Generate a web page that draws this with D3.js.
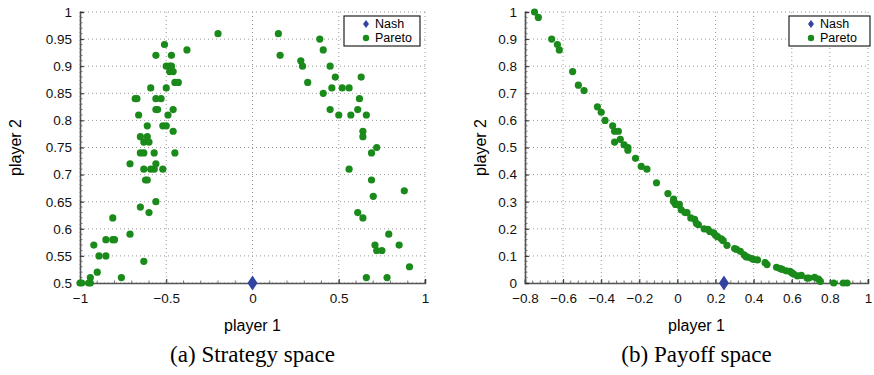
<!DOCTYPE html>
<html>
<head>
<meta charset="utf-8">
<script src="https://cdn.jsdelivr.net/npm/d3@7"></script>
<style>
  body { margin: 0; background: #fff; }
  text { font-family: "Liberation Sans", Arial, sans-serif; }
  .caption { font-family: "Liberation Serif", "Times New Roman", serif; }
</style>
</head>
<body>
<div id="container"></div>
<script>
/* DATA */
// (a) strategy space, pareto points
const stratX = [-0.20, -0.51, -0.38, -0.56, -0.47, -0.50, -0.48, -0.47, -0.48, -0.46, -0.45, -0.43,
  -0.59, -0.50, -0.68, -0.67, -0.56, -0.53, -0.56, -0.55, -0.46, -0.66, -0.49, -0.61, -0.52, -0.50,
  -0.46, -0.65, -0.61, -0.63, -0.60, -0.65, -0.63, -0.57, -0.45, -0.71, -0.63, -0.59, -0.57, -0.56,
  -0.52, -0.62, -0.61, -0.56, -0.65, -0.60, -0.81, -0.71, -0.85, -0.81, -0.80, -0.92, -0.89, -0.85,
  -0.63, -0.90, -0.94, -0.76, -1.00, -0.99, -0.95, -0.94,
  0.15, 0.39, 0.41, 0.16, 0.28, 0.29, 0.45, 0.48, 0.63, 0.32, 0.46, 0.52, 0.56, 0.41, 0.62, 0.45,
  0.61, 0.50, 0.57, 0.66, 0.64, 0.64, 0.72, 0.69, 0.56, 0.69, 0.88, 0.70, 0.61, 0.64, 0.79, 0.71,
  0.85, 0.72, 0.75, 0.91, 0.66, 0.78];
const stratY = [0.96, 0.94, 0.93, 0.92, 0.92, 0.90, 0.90, 0.90, 0.89, 0.89, 0.87, 0.87,
  0.86, 0.86, 0.84, 0.84, 0.84, 0.84, 0.82, 0.82, 0.82, 0.81, 0.81, 0.79, 0.79, 0.79,
  0.78, 0.77, 0.77, 0.76, 0.76, 0.74, 0.74, 0.74, 0.74, 0.72, 0.71, 0.71, 0.71, 0.72,
  0.71, 0.69, 0.69, 0.65, 0.64, 0.63, 0.62, 0.59, 0.58, 0.58, 0.58, 0.57, 0.55, 0.55,
  0.54, 0.52, 0.51, 0.51, 0.50, 0.50, 0.50, 0.50,
  0.96, 0.95, 0.93, 0.92, 0.91, 0.90, 0.90, 0.88, 0.88, 0.87, 0.86, 0.86, 0.86, 0.85, 0.84, 0.82,
  0.82, 0.81, 0.81, 0.81, 0.78, 0.77, 0.75, 0.74, 0.71, 0.69, 0.67, 0.66, 0.63, 0.62, 0.59, 0.57,
  0.57, 0.56, 0.56, 0.53, 0.51, 0.51];

// (b) payoff space, pareto points
const payX = [-0.75, -0.73, -0.66, -0.63, -0.62, -0.55, -0.52, -0.49, -0.42, -0.40, -0.38, -0.34,
  -0.33, -0.31, -0.30, -0.33, -0.28, -0.26, -0.26, -0.22, -0.19, -0.16, -0.11, -0.05,
  -0.02, -0.02, -0.01, 0.01, 0.02, 0.04, 0.05, 0.07, 0.09, 0.10, 0.11,
  0.14, 0.16, 0.17, 0.19, 0.20, 0.21, 0.23, 0.24, 0.26,
  0.30, 0.31, 0.33, 0.35, 0.36, 0.37, 0.39, 0.40, 0.42, 0.46, 0.47,
  0.52, 0.54, 0.55, 0.57, 0.59, 0.60, 0.61, 0.63, 0.65, 0.68, 0.69, 0.72, 0.74, 0.75,
  0.82, 0.87, 0.89];
const payY = [1.00, 0.98, 0.90, 0.88, 0.86, 0.78, 0.73, 0.71, 0.65, 0.63, 0.60, 0.58,
  0.56, 0.56, 0.53, 0.52, 0.51, 0.50, 0.49, 0.46, 0.43, 0.42, 0.37, 0.33,
  0.31, 0.30, 0.29, 0.29, 0.27, 0.26, 0.26, 0.24, 0.235, 0.22, 0.215,
  0.20, 0.198, 0.19, 0.185, 0.176, 0.171, 0.163, 0.156, 0.139,
  0.127, 0.124, 0.117, 0.104, 0.097, 0.095, 0.09, 0.087, 0.085, 0.075, 0.068,
  0.058, 0.053, 0.05, 0.045, 0.043, 0.038, 0.033, 0.026, 0.028, 0.018, 0.018, 0.021, 0.014, 0.006,
  0, 0, 0];

// nash points
const nashStrat = [0, 0.5];
const nashPay = [0.244, 0];

// ticks
const stratXTicks = [-1, -0.5, 0, 0.5, 1];
const stratYTicks = [0.5, 0.55, 0.6, 0.65, 0.7, 0.75, 0.8, 0.85, 0.9, 0.95, 1];
const payXTicks = [-0.8, -0.6, -0.4, -0.2, 0, 0.2, 0.4, 0.6, 0.8, 1];
const payYTicks = [0, 0.1, 0.2, 0.3, 0.4, 0.5, 0.6, 0.7, 0.8, 0.9, 1];

const seriesNames = ["Nash", "Pareto"];
const captions = ["(a) Strategy space", "(b) Payoff space"];

/* CONSTANTS */
const W = 874, H = 375;
const green = "#1a8a1a";
const blue = "#3344a0";

const svg = d3.select('#container')
  .append('svg')
  .attr("width", W)
  .attr("height", H);

function drawPanel(opt) {
  const x = d3.scaleLinear().domain(opt.xDomain).range([opt.left, opt.right]);
  const y = d3.scaleLinear().domain(opt.yDomain).range([opt.bottom, opt.top]);
  const g = svg.append("g");

  // grid lines (dotted)
  g.selectAll(".vgrid")
    .data(opt.xTicks)
    .enter().append("line")
    .attr("x1", d => x(d)).attr("x2", d => x(d))
    .attr("y1", opt.top).attr("y2", opt.bottom)
    .attr("stroke", "#999").attr("stroke-width", 1)
    .attr("stroke-dasharray", "1,3");
  g.selectAll(".hgrid")
    .data(opt.yTicks)
    .enter().append("line")
    .attr("x1", opt.left).attr("x2", opt.right)
    .attr("y1", d => y(d)).attr("y2", d => y(d))
    .attr("stroke", "#999").attr("stroke-width", 1)
    .attr("stroke-dasharray", "1,3");

  // minor ticks
  const xMinor = d3.range(opt.xDomain[0], opt.xDomain[1] + 1e-9, opt.xMinorStep);
  g.selectAll(".xminor").data(xMinor).enter().append("line")
    .attr("x1", d => x(d)).attr("x2", d => x(d))
    .attr("y1", opt.bottom).attr("y2", opt.bottom - 2.5)
    .attr("stroke", "#555").attr("stroke-width", 0.8);
  const yMinor = d3.range(opt.yDomain[0], opt.yDomain[1] + 1e-9, opt.yMinorStep);
  g.selectAll(".yminor").data(yMinor).enter().append("line")
    .attr("x1", opt.left).attr("x2", opt.left + 2.5)
    .attr("y1", d => y(d)).attr("y2", d => y(d))
    .attr("stroke", "#555").attr("stroke-width", 0.8);

  // axes
  const xAxis = g.append("g")
    .attr("transform", `translate(0,${opt.bottom})`)
    .call(d3.axisBottom(x).tickValues(opt.xTicks).tickSize(-4).tickPadding(10)
      .tickFormat(d => d3.format("~g")(d).replace("-", "\u2212")));
  const yAxis = g.append("g")
    .attr("transform", `translate(${opt.left},0)`)
    .call(d3.axisLeft(y).tickValues(opt.yTicks).tickSize(-4).tickPadding(8)
      .tickFormat(d => d3.format("~g")(d)));
  [xAxis, yAxis].forEach(a => {
    a.select(".domain").attr("stroke", "#555").attr("stroke-width", 1.6);
    a.selectAll(".tick line").attr("stroke", "#333");
    a.selectAll(".tick text")
      .attr("fill", "#111")
      .style("font-size", "13.5px")
      .style("font-family", '"Liberation Sans", Arial, sans-serif');
  });

  // pareto points
  g.selectAll(".pareto")
    .data(opt.px.map((d, i) => [d, opt.py[i]]))
    .enter().append("circle")
    .attr("cx", d => x(d[0]))
    .attr("cy", d => y(d[1]))
    .attr("r", 3.6)
    .attr("fill", green);

  // nash point
  g.append("path")
    .attr("d", "M0,-7.5L5,0L0,7.5L-5,0Z")
    .attr("transform", `translate(${x(opt.nash[0])},${y(opt.nash[1])})`)
    .attr("fill", blue);

  // axis labels
  const cx = (opt.left + opt.right) / 2;
  svg.append("text")
    .attr("x", cx).attr("y", 331)
    .attr("text-anchor", "middle")
    .style("font-size", "16px")
    .text("player 1");
  svg.append("text")
    .attr("transform", `translate(${opt.yLabelX},${(opt.top + opt.bottom) / 2}) rotate(-90)`)
    .attr("text-anchor", "middle")
    .style("font-size", "16px")
    .text("player 2");
  svg.append("text")
    .attr("class", "caption")
    .attr("x", cx).attr("y", 362)
    .attr("text-anchor", "middle")
    .style("font-size", "23px")
    .text(opt.caption);

  // legend
  const legend = svg.append("g")
    .attr("transform", `translate(${opt.legendX}, 16)`);
  legend.append("rect")
    .attr("width", opt.legendW).attr("height", 30)
    .attr("fill", "#fff").attr("stroke", "#222").attr("stroke-width", 1.2);
  legend.append("path")
    .attr("d", "M0,-4L3,0L0,4L-3,0Z")
    .attr("transform", "translate(22,8)")
    .attr("fill", blue);
  legend.append("circle")
    .attr("cx", 22).attr("cy", 22).attr("r", 3.2)
    .attr("fill", green);
  legend.selectAll(".ltext")
    .data(seriesNames)
    .enter().append("text")
    .attr("x", 31)
    .attr("y", (d, i) => 12 + i * 14)
    .style("font-size", "12.5px")
    .text(d => d);
}

drawPanel({
  left: 80, right: 425, top: 12, bottom: 283,
  xDomain: [-1, 1], yDomain: [0.5, 1],
  xTicks: stratXTicks, yTicks: stratYTicks,
  xMinorStep: 0.1, yMinorStep: 0.01,
  px: stratX, py: stratY, nash: nashStrat,
  yLabelX: 21, legendX: 344, legendW: 76,
  caption: captions[0]
});

drawPanel({
  left: 525, right: 868, top: 12, bottom: 283,
  xDomain: [-0.8, 1], yDomain: [0, 1],
  xTicks: payXTicks, yTicks: payYTicks,
  xMinorStep: 0.04, yMinorStep: 0.02,
  px: payX, py: payY, nash: nashPay,
  yLabelX: 486, legendX: 789, legendW: 81,
  caption: captions[1]
});
</script>
</body>
</html>
